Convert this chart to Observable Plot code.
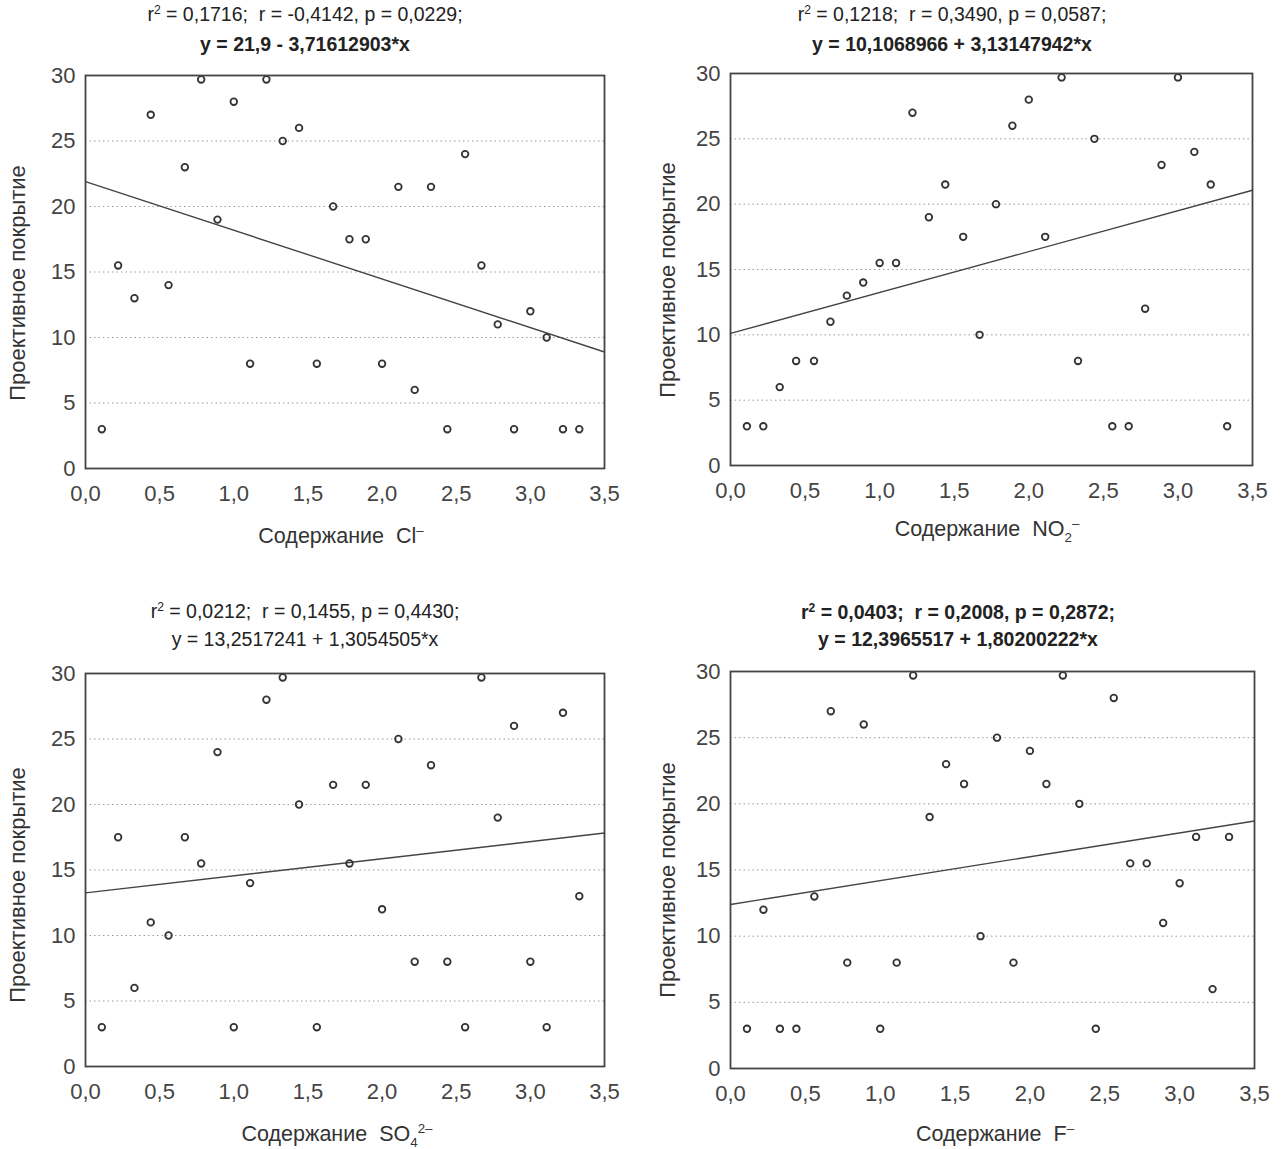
<!DOCTYPE html>
<html><head><meta charset="utf-8">
<script src="https://cdn.jsdelivr.net/npm/d3@7"></script>
<script src="https://cdn.jsdelivr.net/npm/@observablehq/plot@0.6"></script>
<style>
body{margin:0;background:#fff;}
#root{position:relative;width:1286px;height:1149px;font-family:"Liberation Sans",Arial,sans-serif;color:#333;overflow:hidden;background:#fff;}
.t{position:absolute;white-space:nowrap;transform:translate(-50%,-50%);font-size:19.5px;color:#222;line-height:1;}
.xt{position:absolute;white-space:nowrap;transform:translate(-50%,-50%);font-size:21.5px;color:#333;line-height:1;}
.yt{position:absolute;white-space:nowrap;transform:translate(-50%,-50%) rotate(-90deg);font-size:22px;color:#333;line-height:1;}
.p{position:absolute;}
sup,sub{font-size:0.62em;line-height:0;}
</style></head><body><div id="root"></div>
<script>
// Shared x positions (content of ion)
const xContent = [0.11, 0.22, 0.33, 0.44, 0.56, 0.67, 0.78, 0.89, 1.0, 1.11,
                  1.22, 1.33, 1.44, 1.56, 1.67, 1.78, 1.89, 2.0, 2.11, 2.22,
                  2.33, 2.44, 2.56, 2.67, 2.78, 2.89, 3.0, 3.11, 3.22, 3.33];
// Projective cover (y) per panel
const yCl  = [3, 15.5, 13, 27, 14, 23, 29.7, 19, 28, 8,
              29.7, 25, 26, 8, 20, 17.5, 17.5, 8, 21.5, 6,
              21.5, 3, 24, 15.5, 11, 3, 12, 10, 3, 3];
const yNO2 = [3, 3, 6, 8, 8, 11, 13, 14, 15.5, 15.5,
              27, 19, 21.5, 17.5, 10, 20, 26, 28, 17.5, 29.7,
              8, 25, 3, 3, 12, 23, 29.7, 24, 21.5, 3];
const ySO4 = [3, 17.5, 6, 11, 10, 17.5, 15.5, 24, 3, 14,
              28, 29.7, 20, 3, 21.5, 15.5, 21.5, 12, 25, 8,
              23, 8, 3, 29.7, 19, 26, 8, 3, 27, 13];
const yF   = [3, 12, 3, 3, 13, 27, 8, 26, 3, 8,
              29.7, 19, 23, 21.5, 10, 25, 8, 24, 21.5, 29.7,
              20, 3, 28, 15.5, 15.5, 11, 14, 17.5, 6, 17.5];
// Regression coefficients (from the titles)
const intercepts = [21.9, 10.1068966, 13.2517241, 12.3965517];
const slopes = [-3.71612903, 3.13147942, 1.3054505, 1.80200222];
// Tick values
const xTicks = [0, 0.5, 1, 1.5, 2, 2.5, 3, 3.5];
const yTicks = [0, 5, 10, 15, 20, 25, 30];
const gridY = [5, 10, 15, 20, 25];
const xDomain = [0, 3.5];
// Texts
const titles1 = ["r<sup>2</sup> = 0,1716;&nbsp; r = -0,4142, p = 0,0229;",
                 "r<sup>2</sup> = 0,1218;&nbsp; r = 0,3490, p = 0,0587;",
                 "r<sup>2</sup> = 0,0212;&nbsp; r = 0,1455, p = 0,4430;",
                 "r<sup>2</sup> = 0,0403;&nbsp; r = 0,2008, p = 0,2872;"];
const titles2 = ["y = 21,9 - 3,71612903*x",
                 "y = 10,1068966 + 3,13147942*x",
                 "y = 13,2517241 + 1,3054505*x",
                 "y = 12,3965517 + 1,80200222*x"];
const xLabels = ["Содержание&nbsp; Cl<sup>–</sup>",
                 "Содержание&nbsp; NO<sub>2</sub><sup>–</sup>",
                 "Содержание&nbsp; SO<sub>4</sub><sup>2–</sup>",
                 "Содержание&nbsp; F<sup>–</sup>"];
const yLabel = "Проективное покрытие";
const ySeries = [yCl, yNO2, ySO4, yF];

const layout = [
  {left:0,   top:60,  width:640, ml:85, mr:36, mt:15, ph:393, tx:305, t1y:15,  t2y:45,  w1:500, w2:600, xlx:341, xly:537,  ylx:18,  yly:283},
  {left:640, top:58,  width:646, ml:90, mr:34, mt:15, ph:392, tx:952, t1y:15,  t2y:45,  w1:400, w2:600, xlx:987, xly:530,  ylx:668, yly:280},
  {left:0,   top:658, width:640, ml:85, mr:36, mt:15, ph:393, tx:305, t1y:612, t2y:640, w1:400, w2:400, xlx:337, xly:1135, ylx:18,  yly:885},
  {left:640, top:656, width:646, ml:90, mr:32, mt:15, ph:397, tx:958, t1y:613, t2y:640, w1:700, w2:700, xlx:995, xly:1135, ylx:668, yly:880}
];

const root = document.getElementById("root");
const fmtX = d => d.toFixed(1).replace(".", ",");

layout.forEach((L, i) => {
  const data = xContent.map((x, k) => ({x, y: ySeries[i][k]}));
  const lineData = xDomain.map(x => ({x, y: intercepts[i] + slopes[i] * x}));
  const mb = 60;
  const chart = Plot.plot({
    width: L.width,
    height: L.mt + L.ph + mb,
    marginLeft: L.ml, marginRight: L.mr, marginTop: L.mt, marginBottom: mb,
    style: {fontSize: "22px", fontFamily: '"Liberation Sans", Arial, sans-serif', color: "#444", background: "transparent", overflow: "visible"},
    x: {domain: xDomain, ticks: xTicks, tickFormat: fmtX, tickSize: 0, tickPadding: 17, label: null},
    y: {domain: [0, 30], ticks: yTicks, tickFormat: d => String(d), tickSize: 0, tickPadding: 10, label: null},
    marks: [
      Plot.ruleY(gridY, {stroke: "#9a9a9a", strokeDasharray: "1.5,3", strokeWidth: 1}),
      Plot.line(lineData, {x: "x", y: "y", stroke: "#444", strokeWidth: 1.4}),
      Plot.dot(data, {x: "x", y: "y", r: 3.3, stroke: "#333", strokeWidth: 1.8, fill: "none"}),
      Plot.frame({stroke: "#444", strokeWidth: 1.8})
    ]
  });
  chart.classList.add("p");
  chart.style.left = L.left + "px";
  chart.style.top = L.top + "px";
  root.appendChild(chart);

  const add = (cls, html, x, y, weight) => {
    const d = document.createElement("div");
    d.className = cls;
    d.innerHTML = html;
    d.style.left = x + "px";
    d.style.top = y + "px";
    if (weight) d.style.fontWeight = weight;
    root.appendChild(d);
  };
  add("t", titles1[i], L.tx, L.t1y, L.w1);
  add("t", titles2[i], L.tx, L.t2y, L.w2);
  add("xt", xLabels[i], L.xlx, L.xly);
  add("yt", yLabel, L.ylx, L.yly);
});
</script>
</body></html>
